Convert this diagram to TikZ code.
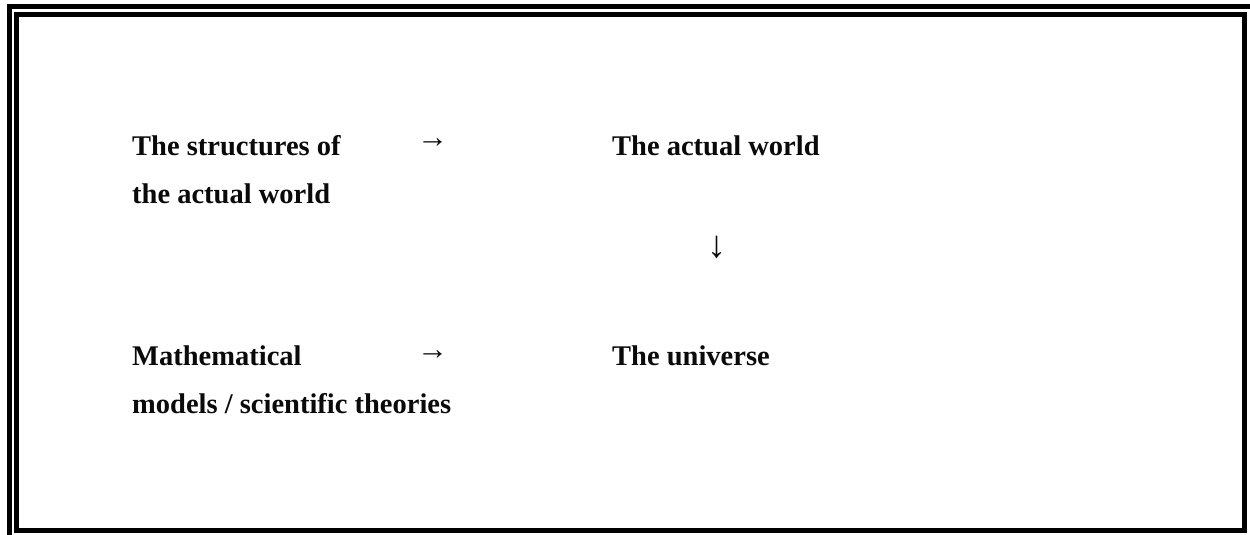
\documentclass[tikz,border=0pt]{standalone}
\usepackage{fontspec}
\setmainfont{Liberation Serif}
\usepackage{tikz}
\definecolor{marco}{RGB}{0,0,0}
\definecolor{texto}{RGB}{10,10,10}
\tikzset{
  caja/.style={anchor=base west, inner sep=0pt, align=left, text=texto,
    font=\fontsize{28.5}{48}\selectfont\bfseries},
  flecha/.style={anchor=center, inner sep=0pt, text=texto,
    font=\fontsize{31}{34}\selectfont},
  flechaabajo/.style={flecha, font=\fontsize{38}{40}\selectfont}
}

\begin{document}
\begin{tikzpicture}[x=1pt, y=-1pt]
	\useasboundingbox (0,0) rectangle (1250,535);
	% Marco doble
	\draw[marco, line width=5pt] (16.5,14.5) rectangle (1244.5,530.5);
	\draw[marco, line width=5pt] (1250,6.5) -- (9.5,6.5) -- (9.5,535);
	% Textos (base de la ultima linea)
	\node[caja] (estructuras) at (132,203) {The structures of\\the actual world};
	\node[caja] (mundo) at (612,155) {The actual world};
	\node[caja] (modelos) at (132,413) {Mathematical\\models / scientific theories};
	\node[caja] (universo) at (612,365) {The universe};
	% Flechas
	\node[flecha] (f1) at (432.5,143.5) {→};
	\node[flechaabajo] (f2) at (717,247) {↓};
	\node[flecha] (f3) at (432.5,355) {→};
\end{tikzpicture}
\end{document}
